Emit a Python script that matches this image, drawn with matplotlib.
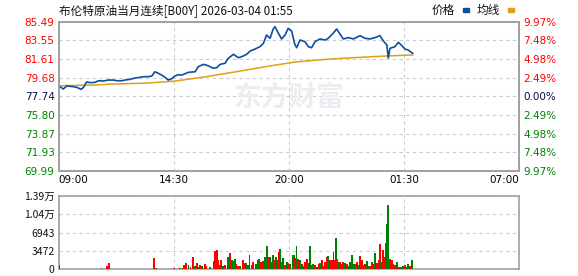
import matplotlib
matplotlib.use("Agg")
import matplotlib.pyplot as plt
from matplotlib.patches import Rectangle

# Brent crude intraday (B00Y), 09:00 -> 07:00 next day
# times are minutes after the 09:00 open
price_min = [0, 13, 23, 32, 42, 52, 64, 71, 80, 90, 104, 114, 128, 142, 157, 166, 181, 190, 204, 219,
             233, 243, 257, 267, 276, 286, 295, 305, 314, 324, 333, 343, 353, 372, 391, 400, 415, 429, 443, 453,
             463, 477, 486, 501, 515, 525, 539, 549, 563, 577, 587, 596, 606, 615, 620, 630, 639, 649, 658, 668,
             676, 682, 692, 706, 716, 725, 735, 749, 764, 773, 787, 797, 807, 816, 831, 845, 864, 878, 893, 907,
             921, 931, 941, 945, 950, 964, 974, 984, 993, 1002, 1015]
price = [78.83, 78.49, 78.80, 78.78, 78.73, 78.66, 78.46, 78.66, 79.22, 79.15, 79.18, 79.35, 79.32, 79.42, 79.42,
         79.35, 79.35, 79.42, 79.49, 79.63, 79.70, 79.77, 79.77, 79.84, 80.28, 80.11, 79.94, 79.70, 79.42, 79.56,
         79.84, 79.97, 79.94, 80.22, 80.28, 80.80, 81.05, 80.90, 80.64, 80.70, 81.05, 81.16, 81.67, 82.09, 81.74,
         81.84, 82.09, 82.43, 82.64, 82.88, 83.23, 84.09, 83.75, 84.71, 84.95, 84.27, 83.68, 84.09, 84.78, 84.50,
         83.23, 82.77, 83.57, 83.40, 82.88, 82.77, 83.40, 83.68, 83.57, 83.75, 84.27, 84.71, 84.16, 83.68, 83.82,
         83.68, 84.02, 83.75, 83.68, 83.82, 84.02, 83.47, 83.05, 81.70, 82.71, 82.88, 83.33, 82.98, 82.64, 82.53,
         82.19]

avg_min = [0, 100, 150, 250, 330, 420, 520, 600, 680, 760, 850, 930, 1015]
avg_price = [78.83, 78.90, 79.00, 79.10, 79.30, 79.75, 80.35, 80.85, 81.30, 81.55, 81.75, 81.90, 82.02]

vol_min = [2, 10, 20, 30, 40, 50, 60, 70, 80, 90, 100, 110, 123, 130, 138, 145, 155, 165, 175, 185,
           195, 205, 215, 225, 235, 245, 255, 265, 273, 279, 290, 300, 310, 320, 331, 340, 348, 355, 360, 365,
           372, 378, 386, 391, 396, 400,
           405, 410, 420, 424, 434, 445, 448, 453, 458, 463, 465, 472, 477, 485, 491, 496, 501, 506, 510, 515,
           520, 528, 532, 537, 542, 547, 553, 558, 566, 570, 575, 579, 585, 590, 594, 598, 601, 606, 611, 614,
           617, 623, 627, 631, 635, 639, 644, 649, 654, 658, 663, 671, 675, 678, 682, 687, 692, 697, 701, 706,
           711, 716, 721, 726, 730, 735, 740, 745, 749, 754, 759, 764, 770, 773, 778, 783, 788, 790, 795, 799,
           802, 807, 811, 816, 821, 826, 831, 836, 840, 845, 850, 855, 859, 864, 869, 874, 878, 883, 888, 893,
           898, 902, 907, 912, 917, 921, 924, 929, 933, 936, 939, 942, 945, 950, 955, 960, 964, 969, 974, 979,
           984, 988, 993, 998, 1002, 1007, 1012]
vol = [900, 150, 150, 150, 150, 150, 150, 150, 150, 150, 150, 150, 300, 150, 600, 1260, 150, 150, 150, 150,
       150, 150, 150, 150, 150, 150, 150, 150, 2210, 300, 150, 150, 150, 150, 300, 150, 300, 300, 900, 1100,
       800, 500, 2400, 600, 1100, 500,
       780, 700, 1080, 600, 360, 1500, 3470, 3600, 1680, 780, 1800, 600, 780, 2280, 3170, 1800, 1560, 1980, 1080, 600,
       600, 1680, 1200, 1200, 780, 2750, 780, 1380, 1080, 1680, 1980, 1380, 1560, 2280, 2280, 4370, 2280, 2280, 1380, 2750,
       1800, 2400, 1800, 3350, 3770, 1380, 2160, 780, 1380, 1200, 1080, 2750, 2750, 2160, 4370, 1980, 1680, 1080, 600, 1380,
       1980, 1200, 4370, 780, 960, 780, 360, 1080, 1200, 1680, 600, 1380, 2280, 2580, 1800, 1680, 3350, 1800, 5870, 1980,
       1380, 1380, 1080, 1380, 1200, 960, 600, 1380, 2750, 960, 1080, 1380, 780, 2580, 1680, 780, 1080, 1560, 600, 600,
       1380, 1080, 3170, 1200, 1800, 4790, 1380, 3600, 2400, 1200, 4970, 8570, 12160, 1980, 1800, 1080, 780, 1380, 480, 360,
       360, 600, 780, 360, 960, 600, 1680]
# r = up minute (red), g = down minute (green), same order as vol_min
vol_side = ("grrrrrrrrrrrgrrrrrrr"
            "rrrrrrrrrgrrrrrrgrrr"
            "grrgrg"
            "rgrrggrrrgrgrgrgrgrr"
            "grrggrgrgrgrrgrgrgrg"
            "rgrrgrgrgrgggrgrgrgr"
            "rggrgrgrgrgrrgrrrrgr"
            "grgrgrgggrgrgrrgrggr"
            "grgrrrgrrrgggrrgrgrg"
            "rgrggrg")

price_ticks = [85.49, 83.55, 81.61, 79.68, 77.74, 75.80, 73.87, 71.93, 69.99]
pct_labels = ["9.97%", "7.48%", "4.98%", "2.49%", "0.00%", "2.49%", "4.98%", "7.48%", "9.97%"]
time_ticks = [0, 330, 660, 990, 1320]
time_labels = ["09:00", "14:30", "20:00", "01:30", "07:00"]
vol_ticks = [0, 3472, 6943, 10415, 13886]
vol_labels = ["0", "3472", "6943", "1.04万", "1.39万"]

CJK = ["Noto Sans CJK SC", "DejaVu Sans"]
RED = "#ff0000"
GREEN = "#008000"
NAVY = "#0a0a50"
SPINE = "#a0a0a0"
GRID = "#cccccc"

fig = plt.figure(figsize=(5.78, 2.76), dpi=100)

ax = fig.add_axes([0.1016, 0.3804, 0.7964, 0.5417])
axv = fig.add_axes([0.1016, 0.0243, 0.7964, 0.2656])

# watermark
fig.text(0.50, 0.645, "东方财富", family=CJK, fontsize=20, fontweight="bold",
         color="#ededf1", ha="center", va="center", zorder=0)

ax.plot(price_min, price, color="#0d4ea0", lw=1.2, zorder=3)
ax.plot(avg_min, avg_price, color="#e0a010", lw=1.1, zorder=2)
ax.set_xlim(0, 1320)
ax.set_ylim(69.99, 85.49)
ax.set_facecolor("none")

ax.set_yticks(price_ticks)
ax.set_yticklabels(["%.2f" % p for p in price_ticks], fontsize=7.5)
for i, lab in enumerate(ax.get_yticklabels()):
    lab.set_color(RED if i < 4 else (NAVY if i == 4 else GREEN))

ax.set_xticks(time_ticks)
ax.set_xticklabels(time_labels, fontsize=7.5)
xl = ax.get_xticklabels()
xl[0].set_horizontalalignment("left")
xl[-1].set_horizontalalignment("right")

ax.tick_params(length=0, pad=3)
ax.grid(True, color=GRID, linestyle=(0, (3, 3)), lw=0.8)

axr = ax.twinx()
axr.set_ylim(69.99, 85.49)
axr.set_yticks(price_ticks)
axr.set_yticklabels(pct_labels, fontsize=7.5)
for i, lab in enumerate(axr.get_yticklabels()):
    lab.set_color(RED if i < 4 else (NAVY if i == 4 else GREEN))
axr.tick_params(length=0, pad=3)

cols = [RED if s == "r" else GREEN for s in vol_side]
axv.bar(vol_min, vol, width=5, color=cols, linewidth=0, zorder=3)
axv.set_xlim(0, 1320)
axv.set_ylim(0, 13886)
axv.set_yticks(vol_ticks)
axv.set_yticklabels(vol_labels, fontsize=7.5, family=CJK)
axv.set_xticks(time_ticks)
axv.set_xticklabels([])
axv.tick_params(length=0, pad=3, colors="#111111")
axv.grid(True, color=GRID, linestyle=(0, (3, 3)), lw=0.8)

for a in (ax, axr, axv):
    for s in a.spines.values():
        s.set_color(SPINE)
        s.set_linewidth(1.2)

# header
fig.text(0.102, 0.963, "布伦特原油当月连续[B00Y] 2026-03-04 01:55", family=CJK,
         fontsize=8.4, color="#111111", va="center", ha="left")
fig.text(0.747, 0.963, "价格", family=CJK, fontsize=8.4, color="#111111", va="center")
fig.text(0.825, 0.963, "均线", family=CJK, fontsize=8.4, color="#111111", va="center")
fig.patches.append(Rectangle((463 / 578, 1 - 12 / 276), 6 / 578, 4 / 276,
                             transform=fig.transFigure, color="#0d4ea0"))
fig.patches.append(Rectangle((508 / 578, 1 - 12 / 276), 6 / 578, 4 / 276,
                             transform=fig.transFigure, color="#e0a010"))

fig.savefig("out.png", dpi=100)
